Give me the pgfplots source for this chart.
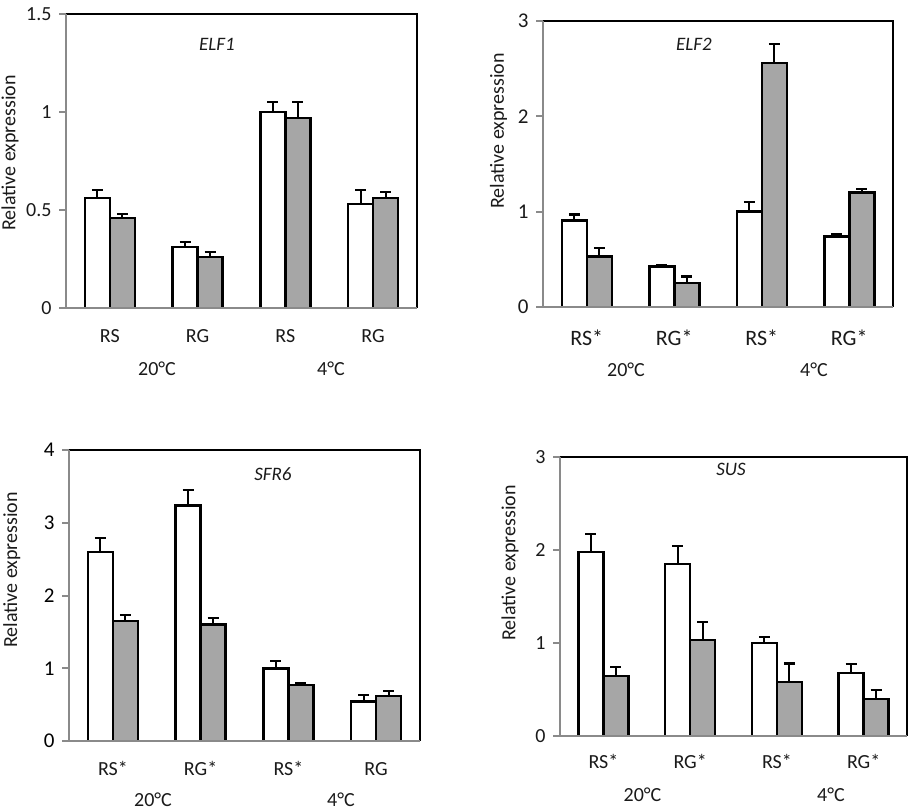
\documentclass[border=0pt]{standalone}
\usepackage{pgfplots}
\pgfplotsset{compat=1.18}
\usepackage{fontspec}
\setmainfont{Carlito}
\definecolor{axgray}{HTML}{8A8A8A}
\definecolor{bargray}{HTML}{A6A6A6}
\definecolor{txt}{HTML}{1A1A1A}
\newcommand{\fs}[1]{\fontsize{#1}{#1}\selectfont}

\pgfplotsset{
  panel/.style={
    scale only axis, xmin=0, xmax=4, ymin=0, clip=false,
    axis x line*=bottom, axis y line*=left,
    axis line style={axgray, line width=2pt, -},
    tick align=outside, major tick length=7pt,
    ytick style={axgray, line width=2pt},
    xtick style={draw=none},
    xtick={0.5,1.5,2.5,3.5},
    /pgf/number format/assume math mode=true,
    ybar=0pt, bar width=25pt,
    axis on top,
    yticklabel style={xshift=-4pt, text=txt},
    xticklabel style={anchor=base, text=txt},
  },
  wbar/.style={fill=white, draw=black, line width=2.5pt,
    error bars/.cd, y dir=plus, y explicit,
    error bar style={line width=2.1pt, black},
    error mark options={rotate=90, mark size=5.5pt, line width=2.1pt, black}},
  gbar/.style={fill=bargray, draw=black, line width=2.5pt,
    error bars/.cd, y dir=plus, y explicit,
    error bar style={line width=2.1pt, black},
    error mark options={rotate=90, mark size=5.5pt, line width=2.1pt, black}},
}
\newcommand{\frameTR}{\draw[black, line width=2.4pt] (rel axis cs:0,1) -- (rel axis cs:1,1) -- (rel axis cs:1,0);}

\begin{document}
\begin{tikzpicture}
\useasboundingbox (0,0) rectangle (914pt,-812pt);

% ---------- ELF1 ----------
\begin{axis}[panel, at={(66pt,-308pt)}, anchor=south west,
  width=351pt, height=294pt, ymax=1.5, ytick={0,0.5,1,1.5},
  yticklabel style={font=\fs{20}},
  xticklabels={RS,RG,RS,RG}, xticklabel style={font=\fs{20}, yshift=-27pt}]
\addplot[wbar] coordinates {(0.5,0.56) +- (0,0.04) (1.5,0.31) +- (0,0.025) (2.5,1.00) +- (0,0.05) (3.5,0.53) +- (0,0.07)};
\addplot[gbar] coordinates {(0.5,0.46) +- (0,0.02) (1.5,0.26) +- (0,0.025) (2.5,0.97) +- (0,0.08) (3.5,0.56) +- (0,0.03)};
\frameTR
\end{axis}

% ---------- ELF2 ----------
\begin{axis}[panel, at={(543pt,-307pt)}, anchor=south west,
  width=350pt, height=286pt, ymax=3, ytick={0,1,2,3},
  yticklabel style={font=\fs{21}},
  xticklabels={RS*,RG*,RS*,RG*}, xticklabel style={font=\fs{22}, yshift=-31pt}]
\addplot[wbar] coordinates {(0.5,0.91) +- (0,0.06) (1.5,0.425) +- (0,0.01) (2.5,1.00) +- (0,0.10) (3.5,0.74) +- (0,0.03)};
\addplot[gbar] coordinates {(0.5,0.53) +- (0,0.09) (1.5,0.25) +- (0,0.07) (2.5,2.56) +- (0,0.20) (3.5,1.20) +- (0,0.04)};
\frameTR
\end{axis}

% ---------- SFR6 ----------
\begin{axis}[panel, at={(69pt,-741pt)}, anchor=south west,
  width=351pt, height=291pt, ymax=4, ytick={0,1,2,3,4},
  yticklabel style={font=\fs{21}, text=black},
  xticklabels={RS*,RG*,RS*,RG}, xticklabel style={font=\fs{20}, yshift=-27pt}]
\addplot[wbar] coordinates {(0.5,2.60) +- (0,0.19) (1.5,3.24) +- (0,0.21) (2.5,1.00) +- (0,0.10) (3.5,0.54) +- (0,0.09)};
\addplot[gbar] coordinates {(0.5,1.65) +- (0,0.08) (1.5,1.60) +- (0,0.09) (2.5,0.77) +- (0,0.02) (3.5,0.62) +- (0,0.065)};
\frameTR
\end{axis}

% ---------- SUS ----------
\begin{axis}[panel, at={(560pt,-736pt)}, anchor=south west,
  width=347pt, height=279pt, ymax=3, ytick={0,1,2,3},
  yticklabel style={font=\fs{20}},
  xticklabels={RS*,RG*,RS*,RG*}, xticklabel style={font=\fs{20}, yshift=-25pt}]
\addplot[wbar] coordinates {(0.5,1.98) +- (0,0.19) (1.5,1.85) +- (0,0.19) (2.5,1.00) +- (0,0.06) (3.5,0.68) +- (0,0.09)};
\addplot[gbar] coordinates {(0.5,0.645) +- (0,0.095) (1.5,1.03) +- (0,0.20) (2.5,0.58) +- (0,0.20) (3.5,0.40) +- (0,0.095)};
\frameTR
\end{axis}

% ---------- titles ----------
\node[font=\fs{19}\itshape, anchor=base, text=txt] at (217pt,-50pt) {ELF1};
\node[font=\fs{19}\itshape, anchor=base, text=txt] at (694pt,-50pt) {ELF2};
\node[font=\fs{19}\itshape, anchor=base, text=txt] at (273pt,-480.7pt) {SFR6};
\node[font=\fs{19}\itshape, anchor=base, text=txt] at (731pt,-475pt) {SUS};

% ---------- group labels ----------
\node[font=\fs{20}, anchor=base, text=txt] at (157pt,-375pt) {20°C};
\node[font=\fs{20}, anchor=base, text=txt] at (331pt,-375pt) {4°C};
\node[font=\fs{20}, anchor=base, text=txt] at (626pt,-376.7pt) {20°C};
\node[font=\fs{20}, anchor=base, text=txt] at (814pt,-376.7pt) {4°C};
\node[font=\fs{20}, anchor=base, text=txt] at (153pt,-806.7pt) {20°C};
\node[font=\fs{20}, anchor=base, text=txt] at (341pt,-806.7pt) {4°C};
\node[font=\fs{20}, anchor=base, text=txt] at (642.5pt,-801.7pt) {20°C};
\node[font=\fs{20}, anchor=base, text=txt] at (831pt,-801.7pt) {4°C};

% ---------- y labels ----------
\node[font=\fs{20}, rotate=90, anchor=center, text=txt] at (10pt,-153pt) {Relative expression};
\node[font=\fs{20}, rotate=90, anchor=center, text=txt] at (498.5pt,-131pt) {Relative expression};
\node[font=\fs{20}, rotate=90, anchor=center, text=txt] at (11.7pt,-570pt) {Relative expression};
\node[font=\fs{20}, rotate=90, anchor=center, text=txt] at (510pt,-563pt) {Relative expression};
\end{tikzpicture}
\end{document}
